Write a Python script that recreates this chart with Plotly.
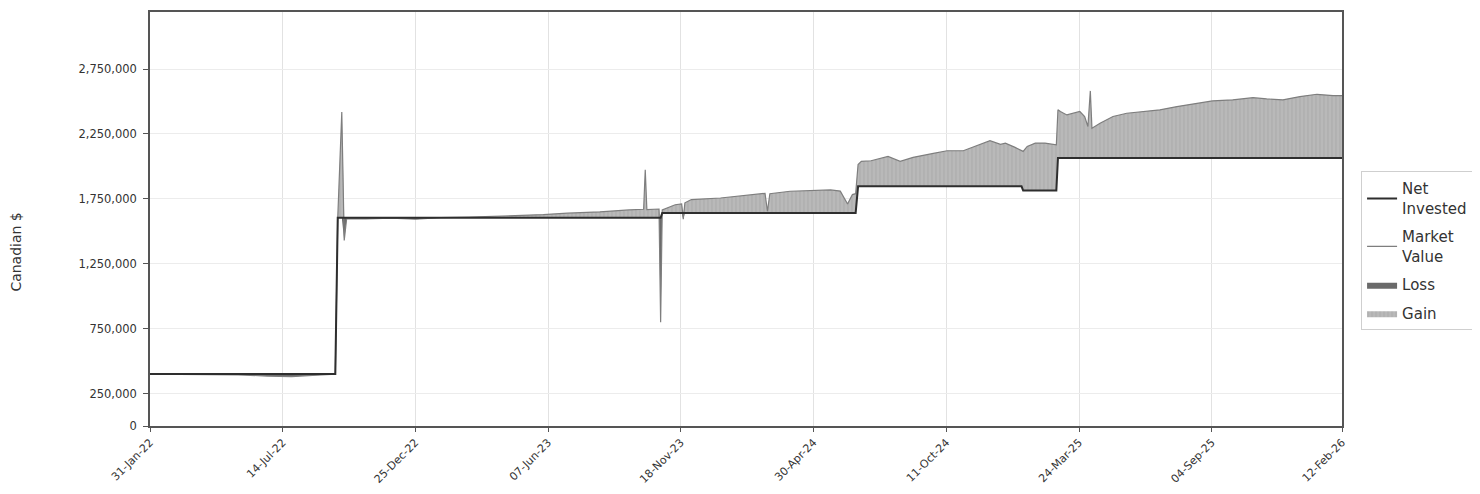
import plotly.graph_objects as go

# ---------------- data ----------------
dates = [
    "2022-01-31", "2022-04-01", "2022-05-20", "2022-06-25", "2022-07-25", "2022-08-25", "2022-09-17",
    "2022-09-20", "2022-09-25", "2022-09-28", "2022-10-01", "2022-10-25", "2022-11-25", "2022-12-25",
    "2023-01-25", "2023-03-01", "2023-04-15", "2023-06-01", "2023-07-01", "2023-08-10", "2023-09-15",
    "2023-10-03", "2023-10-05", "2023-10-07", "2023-10-22", "2023-10-24", "2023-10-26",
    "2023-11-11", "2023-11-19", "2023-11-21", "2023-11-23", "2023-12-01", "2024-01-06", "2024-02-12",
    "2024-03-01", "2024-03-04", "2024-03-07", "2024-04-01", "2024-04-26", "2024-05-21", "2024-06-02",
    "2024-06-08", "2024-06-11", "2024-06-17", "2024-06-21", "2024-06-24",
    "2024-06-28", "2024-07-10", "2024-07-31", "2024-08-15", "2024-08-31", "2024-09-25", "2024-10-12",
    "2024-11-01", "2024-11-22", "2024-12-04", "2024-12-17", "2024-12-23", "2025-01-04", "2025-01-12",
    "2025-01-14", "2025-01-19", "2025-01-29", "2025-02-10", "2025-02-24", "2025-02-26",
    "2025-03-01", "2025-03-09", "2025-03-19", "2025-03-25", "2025-03-31", "2025-04-04", "2025-04-07",
    "2025-04-09", "2025-04-19", "2025-05-05", "2025-05-22", "2025-06-11", "2025-07-02", "2025-07-23",
    "2025-08-20", "2025-09-05", "2025-09-30", "2025-10-25", "2025-11-11", "2025-12-01", "2025-12-22",
    "2026-01-12", "2026-02-01", "2026-02-12",
]

net_invested = [
    400000, 400000, 400000, 400000, 400000, 400000, 400000,
    1605000, 1605000, 1605000, 1605000, 1605000, 1605000, 1605000,
    1605000, 1605000, 1605000, 1605000, 1605000, 1605000, 1605000,
    1605000, 1605000, 1605000, 1605000, 1605000, 1642000,
    1642000, 1642000, 1642000, 1642000, 1642000, 1642000, 1642000,
    1642000, 1642000, 1642000, 1642000, 1642000, 1642000, 1642000,
    1642000, 1642000, 1642000, 1642000, 1847000,
    1847000, 1847000, 1847000, 1847000, 1847000, 1847000, 1847000,
    1847000, 1847000, 1847000, 1847000, 1847000, 1847000, 1847000,
    1814000, 1814000, 1814000, 1814000, 1814000, 2065000,
    2065000, 2065000, 2065000, 2065000, 2065000, 2065000, 2065000,
    2065000, 2065000, 2065000, 2065000, 2065000, 2065000, 2065000,
    2065000, 2065000, 2065000, 2065000, 2065000, 2065000, 2065000,
    2065000, 2065000, 2065000,
]

market_value = [
    400000, 399000, 394000, 385000, 381000, 392000, 400000,
    1600000, 2420000, 1430000, 1598000, 1596000, 1602000, 1593000,
    1606000, 1610000, 1618000, 1628000, 1640000, 1650000, 1665000,
    1670000, 1975000, 1668000, 1672000, 800000, 1665000,
    1705000, 1712000, 1594000, 1720000, 1745000, 1757000, 1778000,
    1793000, 1655000, 1790000, 1809000, 1814000, 1819000, 1810000,
    1745000, 1710000, 1783000, 1790000, 2014000,
    2039000, 2044000, 2077000, 2039000, 2070000, 2100000, 2121000,
    2121000, 2167000, 2198000, 2170000, 2180000, 2147000, 2118000,
    2116000, 2154000, 2180000, 2180000, 2167000, 2436000,
    2423000, 2397000, 2410000, 2423000, 2385000, 2308000, 2582000,
    2295000, 2333000, 2385000, 2410000, 2423000, 2436000, 2461000,
    2487000, 2505000, 2513000, 2530000, 2520000, 2513000, 2538000,
    2556000, 2546000, 2546000,
]

tick_dates = ["2022-01-31", "2022-07-14", "2022-12-25", "2023-06-07", "2023-11-18",
              "2024-04-30", "2024-10-11", "2025-03-24", "2025-09-04", "2026-02-12"]
tick_labels = ["31-Jan-22", "14-Jul-22", "25-Dec-22", "07-Jun-23", "18-Nov-23",
               "30-Apr-24", "11-Oct-24", "24-Mar-25", "04-Sep-25", "12-Feb-26"]

y_ticks = [0, 250000, 750000, 1250000, 1750000, 2250000, 2750000]
y_labels = ["0", "250,000", "750,000", "1,250,000", "1,750,000", "2,250,000", "2,750,000"]

gain_upper = [max(m, n) for m, n in zip(market_value, net_invested)]
loss_lower = [min(m, n) for m, n in zip(market_value, net_invested)]

FONT = "DejaVu Sans"

fig = go.Figure()

# Gain band
fig.add_trace(go.Scatter(x=dates, y=net_invested, mode="lines",
                         line=dict(width=0, color="rgba(0,0,0,0)"),
                         showlegend=False, hoverinfo="skip", legendgroup="g", legendrank=4))
fig.add_trace(go.Scatter(x=dates, y=gain_upper, mode="lines", name="Gain",
                         line=dict(width=0, color="#9a9a9a"),
                         fill="tonexty", fillcolor="#b6b6b6",
                         fillpattern=dict(shape="|", bgcolor="#b9b9b9", fgcolor="#a0a0a0",
                                          size=4, solidity=0.3),
                         legendrank=4, legendgroup="g"))
# Loss band
fig.add_trace(go.Scatter(x=dates, y=net_invested, mode="lines",
                         line=dict(width=0, color="rgba(0,0,0,0)"),
                         showlegend=False, hoverinfo="skip", legendgroup="l", legendrank=3))
fig.add_trace(go.Scatter(x=dates, y=loss_lower, mode="lines", name="Loss",
                         line=dict(width=0, color="#6a6a6a"),
                         fill="tonexty", fillcolor="#6a6a6a",
                         legendrank=3, legendgroup="l"))
# Lines
fig.add_trace(go.Scatter(x=dates, y=market_value, mode="lines", name="Market<br>Value",
                         line=dict(width=1.2, color="#7e7e7e"), legendrank=2, legendgroup="m"))
fig.add_trace(go.Scatter(x=dates, y=net_invested, mode="lines", name="Net<br>Invested",
                         line=dict(width=2, color="#2e2e2e"), legendrank=1, legendgroup="n"))

# the page body adds an 8px offset, so the figure is 8px smaller on each axis
fig.update_layout(
    width=1472, height=486,
    margin=dict(l=142, r=138, t=2, b=68),
    paper_bgcolor="white", plot_bgcolor="white",
    font=dict(family=FONT, color="#333333"),
    legend=dict(x=1.016, y=0.615, xanchor="left", yanchor="top",
                traceorder="grouped", groupclick="toggleitem",
                bordercolor="#cfcfcf", borderwidth=1,
                font=dict(family=FONT, size=15, color="#333333"),
                itemwidth=30, tracegroupgap=6),
    xaxis=dict(type="date", range=["2022-01-31", "2026-02-12"],
               tickmode="array", tickvals=tick_dates, ticktext=tick_labels,
               tickangle=-45, tickfont=dict(family=FONT, size=11, color="#333333"),
               showgrid=True, gridcolor="#e2e2e2", gridwidth=1,
               showline=True, mirror=True, linecolor="#555555", linewidth=1.5,
               ticks="outside", ticklen=4, tickcolor="#555555", zeroline=False),
    yaxis=dict(range=[0, 3190000], tickmode="array", tickvals=y_ticks, ticktext=y_labels,
               tickfont=dict(family=FONT, size=11.5, color="#333333"),
               showgrid=True, gridcolor="#ececec", gridwidth=1,
               showline=True, mirror=True, linecolor="#555555", linewidth=1.5,
               ticks="outside", ticklen=5, tickcolor="#555555", zeroline=False,
               ticklabelstandoff=4),
    annotations=[dict(text="Canadian $", textangle=-90, xref="paper", yref="paper",
                      x=-0.112, y=0.42, xanchor="center", yanchor="middle", showarrow=False,
                      font=dict(family=FONT, size=14, color="#333333"))],
)

fig.write_html("out.html")
